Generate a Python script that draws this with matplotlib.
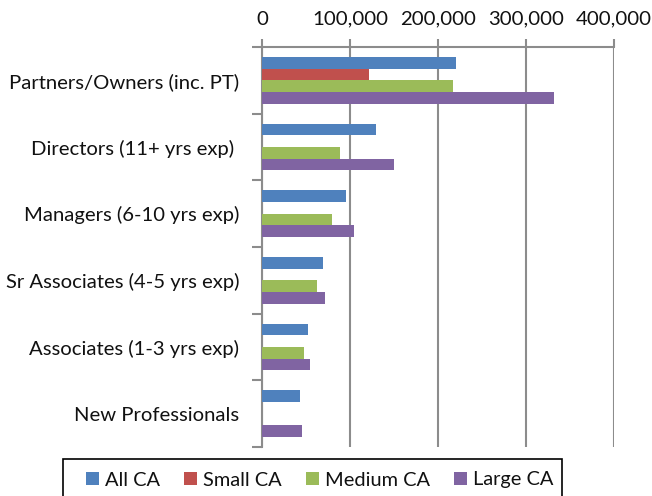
import matplotlib
matplotlib.use("Agg")
import matplotlib.pyplot as plt
import numpy as np
from matplotlib.ticker import FuncFormatter, FixedLocator
from matplotlib.patches import Rectangle

plt.rcParams['font.family'] = ['Lato', 'DejaVu Sans']

categories = ["Partners/Owners (inc. PT)", "Directors (11+ yrs exp) ", "Managers (6-10 yrs exp)",
              "Sr Associates (4-5 yrs exp)", "Associates (1-3 yrs exp)", "New Professionals"]
series_names = ["All CA", "Small CA", "Medium CA", "Large CA"]
all_ca = [221000, 130000, 95000, 69000, 52500, 43500]
small_ca = [122000, 0, 0, 0, 0, 0]
medium_ca = [217000, 89000, 80000, 62000, 48000, 0]
large_ca = [332000, 150000, 104000, 72000, 54500, 45500]
colors = ["#4F81BD", "#C0504D", "#9BBB59", "#8064A2"]
xticks = [0, 100000, 200000, 300000, 400000]

fig = plt.figure(figsize=(6.52, 4.96), dpi=100)
ax = fig.add_axes([262/652, 1-447/496, (614-262)/652, (447-47)/496])

y = np.arange(len(categories))
h = 0.176
data = [all_ca, small_ca, medium_ca, large_ca]
for i, (vals, c, name) in enumerate(zip(data, colors, series_names)):
    ax.barh(y + (i - 1.5) * h, vals, height=h, color=c, label=name, zorder=3)

ax.set_ylim(len(categories) - 0.5, -0.5)
ax.set_xlim(0, 400000)
ax.xaxis.tick_top()
ax.set_xticks(xticks)
ax.xaxis.set_major_formatter(FuncFormatter(lambda v, p: f"{int(v):,}"))
ax.grid(axis='x', color='#8C8C8C', linewidth=1.5, zorder=0)
ax.tick_params(axis='x', which='major', length=6, width=1.5, color='#8C8C8C',
               labelsize=14.7, pad=8, top=True, bottom=False, labelcolor='#111111')

ax.set_yticks(y)
ax.set_yticklabels(categories)
ax.yaxis.set_minor_locator(FixedLocator(np.arange(-0.5, len(categories), 1.0)))
ax.tick_params(axis='y', which='major', length=0, labelsize=14.6, pad=16.5, labelcolor='#111111')
ax.tick_params(axis='y', which='minor', length=7, width=1.5, color='#8C8C8C')

for s in ['right', 'bottom']:
    ax.spines[s].set_visible(False)
for s in ['top', 'left']:
    ax.spines[s].set_color('#8C8C8C')
    ax.spines[s].set_linewidth(1.5)

# legend box
fig.patches.append(Rectangle((63/652, -0.02), (562-63)/652, 1-459/496+0.02,
                             transform=fig.transFigure, fill=False,
                             edgecolor='black', linewidth=1.2))
leg = fig.legend(loc='center left', bbox_to_anchor=(86/652, 1-480/496), ncol=4,
                 fontsize=14.4, frameon=False,
                 handlelength=0.65, handleheight=0.65, handletextpad=0.3,
                 columnspacing=1.2, borderpad=0, borderaxespad=0)
for t in leg.get_texts():
    t.set_color('#111111')

fig.savefig("out.png", dpi=100)
